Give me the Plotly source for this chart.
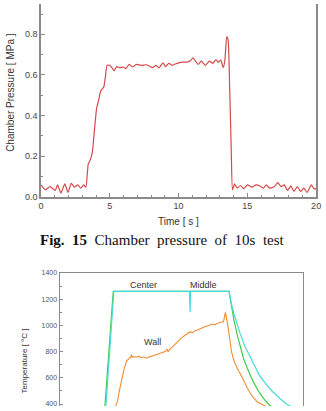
import plotly.graph_objects as go

# ---- Top chart: chamber pressure ----
p_time = [0, 0.31, 0.66, 1.02, 1.2, 1.44, 1.73, 1.96, 2.2, 2.43, 2.67, 2.9, 3.1, 3.26,
          3.43, 3.57, 3.73, 3.9, 4.04, 4.2, 4.33, 4.44, 4.56, 4.68, 4.8, 4.99, 5.15, 5.32,
          5.5, 5.74, 5.98, 6.17, 6.4, 6.64, 6.93, 7.28, 7.64, 7.87, 8.1, 8.35, 8.58, 8.87,
          9.05, 9.29, 9.53, 9.88, 10.24, 10.6, 10.83, 11.06, 11.23, 11.42, 11.65, 11.94,
          12.25, 12.48, 12.72, 12.88, 13.07, 13.24, 13.36, 13.5, 13.6, 13.71, 13.83, 13.92,
          14.07, 14.26, 14.5, 14.73, 15.01, 15.32, 15.63, 15.91, 16.15, 16.38, 16.62, 16.97,
          17.21, 17.45, 17.68, 17.92, 18.16, 18.39, 18.63, 18.87, 19.1, 19.34, 19.65, 19.81, 20]
p_value = [0.058, 0.034, 0.05, 0.03, 0.058, 0.018, 0.063, 0.021, 0.066, 0.047, 0.058, 0.042,
           0.058, 0.047, 0.16, 0.18, 0.22, 0.34, 0.435, 0.48, 0.52, 0.53, 0.54, 0.59, 0.647,
           0.647, 0.636, 0.62, 0.641, 0.635, 0.639, 0.631, 0.652, 0.639, 0.652, 0.647, 0.65,
           0.644, 0.636, 0.647, 0.635, 0.66, 0.641, 0.657, 0.647, 0.657, 0.663, 0.663, 0.668,
           0.684, 0.668, 0.652, 0.668, 0.647, 0.668, 0.657, 0.676, 0.663, 0.673, 0.636, 0.668,
           0.789, 0.773, 0.548, 0.227, 0.034, 0.063, 0.042, 0.055, 0.039, 0.058, 0.047, 0.058,
           0.053, 0.042, 0.058, 0.042, 0.05, 0.069, 0.05, 0.058, 0.031, 0.053, 0.026, 0.05,
           0.026, 0.042, 0.021, 0.058, 0.042, 0.037]
p_xticks = [0, 5, 10, 15, 20]
p_yticks = [0.0, 0.2, 0.4, 0.6, 0.8]

# ---- Bottom chart: temperature ----
center_time = [3.72, 4.4, 13.9, 14.0, 14.1, 14.3, 14.6, 15.1, 15.5, 15.9, 16.3, 16.7, 17.2, 17.5]
center_temp = [385, 1260, 1260, 1200, 1150, 1040, 916, 744, 650, 567, 500, 445, 393, 370]

middle_time = [3.8, 4.45, 10.65, 10.7, 10.75, 13.9, 14.05, 14.3, 14.8, 15.2, 15.6, 16.0,
               16.4, 17.0, 17.5, 18.1, 18.6, 19.0]
middle_temp = [385, 1260, 1260, 1100, 1260, 1260, 1180, 1090, 941, 840, 766, 690,
               617, 545, 492, 440, 400, 380]

wall_time = [4.6, 4.75, 4.9, 5.1, 5.3, 5.5, 5.7, 5.85, 5.9, 5.95, 6.1, 6.3, 6.5, 6.7, 6.9,
             7.1, 7.3, 7.5, 7.7, 7.9, 8.1, 8.3, 8.5, 8.7, 8.8, 8.9, 9.1, 9.3, 9.5, 9.7, 9.9,
             10.1, 10.3, 10.5, 10.7, 10.9, 11.1, 11.3, 11.5, 11.7, 11.9, 12.1, 12.3, 12.5,
             12.7, 12.9, 13.1, 13.3, 13.45, 13.6, 13.7, 13.8, 13.95, 14.1, 14.3, 14.6, 15.0,
             15.4, 15.8, 16.2, 16.7, 17.0]
wall_temp = [385, 420, 500, 594, 670, 729, 750, 760, 778, 755, 762, 757, 765, 752, 760,
             750, 757, 763, 768, 775, 780, 790, 795, 805, 818, 800, 825, 840, 860, 880, 900,
             912, 925, 940, 950, 945, 960, 965, 975, 985, 990, 995, 1005, 1010, 1003, 1015,
             1020, 1025, 1030, 1100, 1060, 1000, 900, 800, 730, 667, 600, 520, 460, 417, 393, 380]
t_yticks = [400, 600, 800, 1000, 1200, 1400]

W, H = 326, 411
tick_font = dict(family="Liberation Sans, Arial", size=9, color="#444")
axis_col = "#8a8a8a"

fig = go.Figure()
fig.add_trace(go.Scatter(x=p_time, y=p_value, mode="lines",
                         line=dict(color="#d64a4a", width=1.2, shape="spline", smoothing=0.5),
                         xaxis="x", yaxis="y", showlegend=False))
fig.add_trace(go.Scatter(x=center_time, y=center_temp, mode="lines",
                         line=dict(color="#3fcc4a", width=1.2),
                         xaxis="x2", yaxis="y2", showlegend=False))
fig.add_trace(go.Scatter(x=middle_time, y=middle_temp, mode="lines",
                         line=dict(color="#45dcd8", width=1.2),
                         xaxis="x2", yaxis="y2", showlegend=False))
fig.add_trace(go.Scatter(x=wall_time, y=wall_temp, mode="lines",
                         line=dict(color="#f08c30", width=1.1),
                         xaxis="x2", yaxis="y2", showlegend=False))

fig.update_layout(
    width=W, height=H, margin=dict(l=0, r=0, t=0, b=0),
    paper_bgcolor="white", plot_bgcolor="white",
    xaxis=dict(domain=[39 / W, 321 / W], range=[0, 20], anchor="y",
               tickvals=p_xticks, ticks="inside", ticklen=4, tickcolor=axis_col,
               minor=dict(dtick=1, ticks="inside", ticklen=2, tickcolor=axis_col),
               showgrid=False, zeroline=False, showline=True, linecolor=axis_col,
               linewidth=1.5, tickfont=tick_font, ticklabeloverflow="allow"),
    yaxis=dict(domain=[214 / H, 1], range=[0, 197 / 207.5], anchor="x",
               tickvals=p_yticks, tickformat=".1f", ticks="inside", ticklen=4,
               tickcolor=axis_col,
               minor=dict(dtick=0.1, ticks="inside", ticklen=2, tickcolor=axis_col),
               showgrid=False, zeroline=False, showline=True, mirror=True,
               linecolor=axis_col, linewidth=1.5, tickfont=tick_font),
    xaxis2=dict(domain=[58 / W, 308 / W], range=[0, 20], anchor="y2", side="top",
                showticklabels=False, ticks="", showgrid=False, zeroline=False,
                showline=True, linecolor=axis_col, linewidth=1.2),
    yaxis2=dict(domain=[0, 136 / H], range=[385, 1400], anchor="x2",
                tickvals=t_yticks, ticks="inside", ticklen=3, tickcolor=axis_col,
                minor=dict(dtick=100, ticks="inside", ticklen=2, tickcolor=axis_col),
                showgrid=False, zeroline=False, showline=True, mirror=True,
                linecolor=axis_col, linewidth=1.2,
                tickfont=dict(family="Liberation Sans, Arial", size=7, color="#555")),
)

lab = dict(family="Liberation Sans, Arial", color="#333")
fig.add_annotation(text="Chamber Pressure [ MPa ]", x=7 / W, y=(H - 90) / H,
                   xref="paper", yref="paper", textangle=-90, showarrow=False,
                   font=dict(size=10, **lab), xanchor="center", yanchor="middle")
fig.add_annotation(text="Time [ s ]", x=180 / W, y=(H - 222) / H,
                   xref="paper", yref="paper", showarrow=False,
                   font=dict(size=10, **lab), xanchor="center", yanchor="middle")
fig.add_annotation(text="<b>Fig.\u00a0\u00a015</b>\u00a0\u00a0Chamber\u00a0\u00a0pressure\u00a0\u00a0of\u00a0\u00a010s\u00a0\u00a0test",
                   x=164 / W, y=(H - 241) / H, xref="paper", yref="paper",
                   showarrow=False, xanchor="center", yanchor="middle",
                   font=dict(family="Liberation Serif, Times New Roman", size=15, color="#111"))
fig.add_annotation(text="Temperature [ \u00b0C ]", x=22 / W, y=(H - 365) / H,
                   xref="paper", yref="paper", textangle=-90, showarrow=False,
                   font=dict(size=8, **lab), xanchor="center", yanchor="middle")
for txt, tx, ty in [("Center", 6.9, 1305), ("Middle", 11.84, 1305), ("Wall", 7.6, 871)]:
    fig.add_annotation(text=txt, x=tx, y=ty, xref="x2", yref="y2", showarrow=False,
                       font=dict(size=9, **lab), xanchor="center", yanchor="middle")

fig.write_html("out.html")
